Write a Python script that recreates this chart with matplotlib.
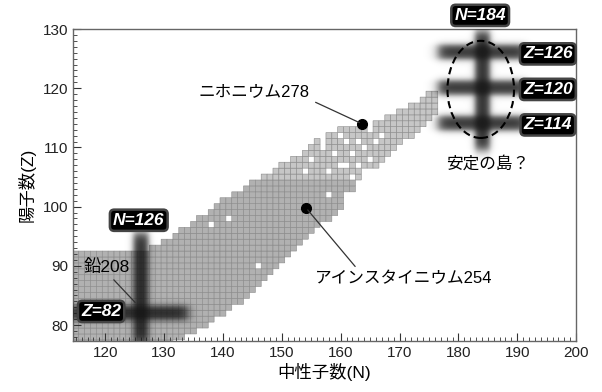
import numpy as np
import matplotlib
matplotlib.use("Agg")
import matplotlib.pyplot as plt
from matplotlib.colors import ListedColormap
from matplotlib.patches import Ellipse
from matplotlib.ticker import MultipleLocator

plt.rcParams['font.family'] = ['Liberation Sans', 'Noto Sans CJK JP']

# ---------------- data ----------------
# known nuclides: for each proton number Z, neutron range [N_min, N_max]
Z_rows = list(range(77, 120))
N_min = [114]*16 + [128, 130, 132, 133, 135, 136, 138, 139, 140, 142, 144, 145,
                    147, 149, 150, 152, 153, 155, 156, 158, 160, 166, 168, 170,
                    172, 174, 175]
N_max = [131, 133, 135, 137, 138, 140, 141, 143, 144, 145, 146, 147, 148, 149,
         150, 151, 152, 153, 154, 155, 156, 158, 159, 160, 160, 160, 162, 162,
         163, 164, 166, 167, 168, 169, 170, 172, 173, 174, 175, 176, 176, 176, 176]
# unknown gaps inside the band (N, Z)
holes = [(138, 97), (141, 98), (146, 90), (158, 102), (160, 107), (155, 108),
         (157, 110), (158, 106), (161, 107), (163, 107), (164, 110), (166, 111),
         (160, 112), (157, 111), (162, 105), (164, 106), (153, 109), (159, 109),
         (162, 109), (165, 108), (156, 112), (161, 111), (154, 106), (163, 111),
         (167, 112), (165, 113)]
light_from_Z = 105

# magic numbers (value, start, end of the drawn band)
magic_N = [(126, 77.0, 95.5), (184, 109.5, 129.5)]
magic_Z = [(82, 114.0, 134.0), (126, 176.5, 191.5), (120, 176.5, 191.5), (114, 176.5, 191.5)]

# labelled nuclides
nihonium = (163.6, 114.0)
einsteinium = (154.1, 99.8)
lead_pt = (125.1, 83.8)

# ---------------- figure ----------------
fig = plt.figure(figsize=(6.02, 3.92), dpi=100)
ax = fig.add_axes([0.121, 0.130, 0.836, 0.796])
xlim = (114.5, 200)
ylim = (77.3, 130)

Nvals = np.arange(110, 181)
Zvals = np.array(Z_rows)
grid = np.full((len(Zvals), len(Nvals)), np.nan)
for i, z in enumerate(Z_rows):
    for n in range(N_min[i], N_max[i] + 1):
        j = n - Nvals[0]
        grid[i, j] = 2 if z >= light_from_Z else 1
for n, z in holes:
    grid[z - Z_rows[0], n - Nvals[0]] = np.nan
Nedges = np.append(Nvals - 0.5, Nvals[-1] + 0.5)
Zedges = np.append(Zvals - 0.5, Zvals[-1] + 0.5)
cmap = ListedColormap(['#b1b1b1', '#c6c6c6'])
ax.pcolor(Nedges, Zedges, np.ma.masked_invalid(grid), cmap=cmap, vmin=0.5, vmax=2.5,
          edgecolors='#888888', linewidth=0.4, zorder=1)

# blurred magic bands
NN, ZZ = np.meshgrid(np.linspace(xlim[0], xlim[1], 900), np.linspace(ylim[0], ylim[1], 560))

def soft(d, half, s):
    return 1.0 / (1.0 + np.exp((np.abs(d) - half) / s))

trans = np.ones_like(NN)
for n0, z0, z1 in magic_N:
    a = soft(NN - n0, 1.25, 0.3) * soft(ZZ - (z0 + z1) / 2, (z1 - z0) / 2, 0.5)
    trans *= 1 - 0.86 * a
for z0, n0, n1 in magic_Z:
    a = soft(ZZ - z0, 1.2, 0.3) * soft(NN - (n0 + n1) / 2, (n1 - n0) / 2, 0.5)
    trans *= 1 - 0.84 * a
img = np.zeros(NN.shape + (4,))
img[..., :3] = 0.08
img[..., 3] = 1 - trans
ax.imshow(img, extent=(xlim[0], xlim[1], ylim[0], ylim[1]), origin='lower',
          aspect='auto', interpolation='bilinear', zorder=3)

# island of stability ellipse
ax.add_patch(Ellipse((183.8, 119.8), 11.3, 16.4, fill=False, ls=(0, (3.5, 2)),
                     lw=1.5, ec='black', zorder=5))
ax.text(185, 107.3, '安定の島？', ha='center', va='center', fontsize=12, zorder=6)

# label boxes
box = dict(boxstyle='round,pad=0.18,rounding_size=0.25', fc='black', ec='#444444', lw=1.8)
lab_kw = dict(color='white', fontsize=12.5, fontweight='bold', fontstyle='italic',
              ha='center', va='center', bbox=box, zorder=8, clip_on=False,
              family='Liberation Sans')
ax.text(125.7, 97.7, 'N=126', **lab_kw)
ax.text(119.3, 82.3, 'Z=82', **lab_kw)
ax.text(183.7, 132.3, 'N=184', **lab_kw)
for z0, n0, n1 in magic_Z[1:]:
    ax.text(195.2, z0 - 0.2, f'Z={z0}', **lab_kw)

# annotated nuclides
ax.plot(*nihonium, 'o', color='black', ms=7, zorder=7)
ax.plot(*einsteinium, 'o', color='black', ms=7, zorder=7)
ax.annotate('ニホニウム278', xy=nihonium, xytext=(145.2, 119.4), ha='center', va='center',
            fontsize=12, zorder=7,
            arrowprops=dict(arrowstyle='-', color='#333333', lw=0.9, relpos=(1.0, 0.0),
                            shrinkA=3, shrinkB=2))
ax.annotate('アインスタイニウム254', xy=einsteinium, xytext=(170.7, 87.8), ha='center',
            va='center', fontsize=12, zorder=7,
            arrowprops=dict(arrowstyle='-', color='#333333', lw=0.9, relpos=(0.25, 1.0),
                            shrinkA=2, shrinkB=2))
ax.annotate('鉛208', xy=lead_pt, xytext=(120.3, 89.8), ha='center', va='center',
            fontsize=12.5, zorder=7,
            arrowprops=dict(arrowstyle='-', color='#333333', lw=0.9, relpos=(0.55, 0.0),
                            shrinkA=2, shrinkB=0))

# axes
ax.set_xlim(*xlim)
ax.set_ylim(*ylim)
ax.xaxis.set_major_locator(MultipleLocator(10))
ax.xaxis.set_minor_locator(MultipleLocator(1))
ax.yaxis.set_major_locator(MultipleLocator(10))
ax.yaxis.set_minor_locator(MultipleLocator(1))
ax.tick_params(which='both', direction='in', top=False, right=False, labelsize=11,
               colors='#333333', labelcolor='#222222')
ax.tick_params(which='major', length=6, width=0.8)
ax.tick_params(which='minor', length=3, width=0.6)
for s in ax.spines.values():
    s.set_color('#666666')
    s.set_linewidth(1.0)
ax.set_xlabel('中性子数(N)', fontsize=12.5, labelpad=2)
ax.set_ylabel('陽子数(Z)', fontsize=12.5, labelpad=5)

fig.savefig('out.png', dpi=100)
